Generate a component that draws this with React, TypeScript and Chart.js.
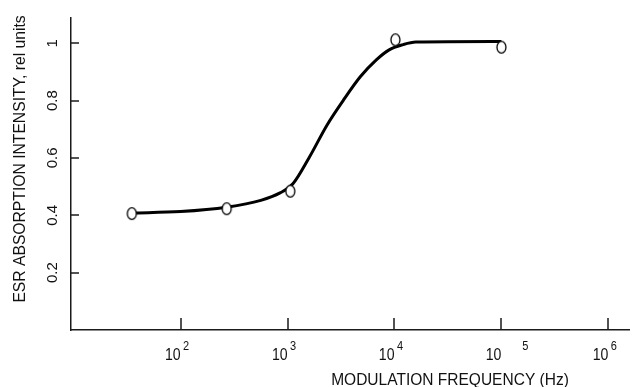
import { useEffect, useRef } from "react";
import { Chart, registerables } from "chart.js";

Chart.register(...registerables);

// ---- data ----
const measuredFreqHz = [35, 270, 1060, 10200, 100000];
const measuredIntensity = [0.406, 0.423, 0.484, 1.012, 0.986];

const fitFreqHz = [35, 100, 269, 562, 851, 1122, 1585, 2344, 3311, 4786, 6761, 8913, 12023, 15849, 100000];
const fitIntensity = [0.408, 0.413, 0.428, 0.452, 0.478, 0.51, 0.6, 0.715, 0.8, 0.883, 0.942, 0.977, 0.995, 1.004, 1.006];

const xTickValues = [100, 1000, 10000, 100000, 1000000];
const xTickBase = ["10", "10", "10", "10", "10"];
const xTickExponent = ["2", "3", "4", "\u2007\u2007\u20075", "6"];

const yTickValues = [0.2, 0.4, 0.6, 0.8, 1];
const yTickLabels = ["0.2", "0.4", "0.6", "0.8", "1"];

const xTitle = "MODULATION FREQUENCY (Hz)";
const yTitle = "ESR ABSORPTION INTENSITY, rel units";

const X_MIN = 9.44;
const X_MAX = 1.56e6;
const Y_MIN = 0;
const Y_MAX = 1.088;

const W = 636;
const H = 387;
const FONT = '"Liberation Sans", Arial, Helvetica, sans-serif';
const INK = "#111";

function makeMarker(): HTMLCanvasElement {
  const m = document.createElement("canvas");
  m.width = 13;
  m.height = 15;
  const c = m.getContext("2d")!;
  c.beginPath();
  c.ellipse(6.5, 7.5, 4.5, 5.8, 0, 0, Math.PI * 2);
  c.fillStyle = "#fff";
  c.fill();
  c.lineWidth = 1.3;
  c.strokeStyle = "#000";
  c.stroke();
  return m;
}

function drawCondensed(
  ctx: CanvasRenderingContext2D,
  text: string,
  x: number,
  y: number,
  size: number,
  align: CanvasTextAlign,
  squeeze: number,
  rotate = 0
) {
  ctx.save();
  ctx.translate(x, y);
  if (rotate) ctx.rotate(rotate);
  ctx.scale(squeeze, 1);
  ctx.font = `${size}px ${FONT}`;
  ctx.textAlign = align;
  ctx.textBaseline = "alphabetic";
  ctx.fillStyle = INK;
  ctx.fillText(text, 0, 0);
  ctx.restore();
}

const axisDecor = {
  id: "axisDecor",
  afterDraw(chart: any) {
    const ctx: CanvasRenderingContext2D = chart.ctx;
    const xs = chart.scales.x;
    const ys = chart.scales.y;
    const { left, bottom } = chart.chartArea;
    ctx.save();
    ctx.strokeStyle = "#1a1a1a";
    ctx.lineWidth = 1.5;
    yTickValues.forEach((v) => {
      const py = Math.round(ys.getPixelForValue(v));
      ctx.beginPath();
      ctx.moveTo(left, py);
      ctx.lineTo(left + 8, py);
      ctx.stroke();
    });
    xTickValues.forEach((v) => {
      const px = Math.round(xs.getPixelForValue(v));
      ctx.beginPath();
      ctx.moveTo(px, bottom);
      ctx.lineTo(px, bottom - 12);
      ctx.stroke();
    });
    ctx.restore();

    yTickValues.forEach((v, i) => {
      const py = ys.getPixelForValue(v);
      drawCondensed(ctx, yTickLabels[i], left - 14, py, 15, "center", 1, -Math.PI / 2);
    });

    xTickValues.forEach((v, i) => {
      const px = xs.getPixelForValue(v);
      drawCondensed(ctx, xTickBase[i], px, bottom + 30, 16, "right", 0.88);
      drawCondensed(ctx, xTickExponent[i], px + 2.5, bottom + 20, 12, "left", 0.92);
    });

    drawCondensed(ctx, xTitle, 450, H - 2, 16, "center", 0.97);
    drawCondensed(ctx, yTitle, 25, 159, 16, "center", 0.98, -Math.PI / 2);
  },
};

export default function App() {
  const ref = useRef<HTMLCanvasElement | null>(null);

  useEffect(() => {
    document.body.style.margin = "0";
    const canvas = ref.current!;
    const marker = makeMarker();
    const chart = new Chart(canvas, {
      type: "scatter",
      data: {
        datasets: [
          {
            label: "measured",
            data: measuredFreqHz.map((x, i) => ({ x, y: measuredIntensity[i] })),
            pointStyle: marker as any,
            pointRadius: 6,
            showLine: false,
          },
          {
            label: "fit",
            data: fitFreqHz.map((x, i) => ({ x, y: fitIntensity[i] })),
            showLine: true,
            borderColor: "#000",
            borderWidth: 3,
            pointRadius: 0,
            cubicInterpolationMode: "monotone",
            fill: false,
          } as any,
        ],
      },
      options: {
        responsive: false,
        animation: false,
        devicePixelRatio: 1,
        events: [],
        layout: { padding: { top: 18, left: 0, right: 0, bottom: 0 } },
        plugins: {
          legend: { display: false },
          tooltip: { enabled: false },
          title: { display: false },
        },
        scales: {
          x: {
            type: "logarithmic",
            min: X_MIN,
            max: X_MAX,
            grid: { display: false },
            border: { display: true, color: "#1a1a1a", width: 1.5 },
            ticks: { display: false },
            afterFit: (s: any) => {
              s.height = 57;
            },
          },
          y: {
            type: "linear",
            min: Y_MIN,
            max: Y_MAX,
            grid: { display: false },
            border: { display: true, color: "#1a1a1a", width: 1.5 },
            ticks: { display: false },
            afterFit: (s: any) => {
              s.width = 71;
            },
          },
        },
      },
      plugins: [axisDecor],
    });
    return () => chart.destroy();
  }, []);

  return (
    <div style={{ position: "fixed", left: 0, top: 0, width: W, height: H, background: "#fff" }}>
      <canvas ref={ref} width={W} height={H} style={{ display: "block", width: W, height: H }} />
    </div>
  );
}
